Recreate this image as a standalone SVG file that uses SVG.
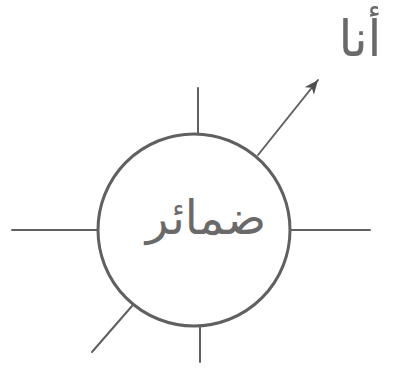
<svg xmlns="http://www.w3.org/2000/svg" width="394" height="369" viewBox="0 0 394 369">
<style>
.ln{stroke:#606060;stroke-width:2;fill:none;stroke-linecap:round}
.tx{font-family:"DejaVu Sans","Noto Sans",sans-serif;fill:#6a6a6a;text-anchor:middle}
</style>
<defs>
<marker id="ah" markerWidth="16" markerHeight="12" refX="14" refY="6" orient="auto" markerUnits="userSpaceOnUse">
<path d="M0,0 L14,6 L0,12 L4,6 Z" fill="#505050"/>
</marker>
</defs>
<rect width="394" height="369" fill="#ffffff"/>
<g id="connectors">
<line class="ln" x1="198" y1="88" x2="198" y2="134"/>
<line class="ln" x1="200" y1="326" x2="200" y2="362"/>
<line class="ln" x1="12" y1="230" x2="98" y2="230"/>
<line class="ln" x1="290" y1="230" x2="370" y2="230"/>
<line class="ln" x1="132" y1="306" x2="92" y2="352"/>
<line class="ln" x1="258" y1="155" x2="318" y2="80" marker-end="url(#ah)"/>
</g>
<g id="node-center">
<circle cx="194" cy="230" r="96" fill="#ffffff" stroke="#606060" stroke-width="3"/>
<text class="tx" x="206" y="234" font-size="47">ضمائر</text>
</g>
<g id="node-ana">
<text class="tx" x="360" y="56" font-size="50">أنا</text>
</g>
</svg>
